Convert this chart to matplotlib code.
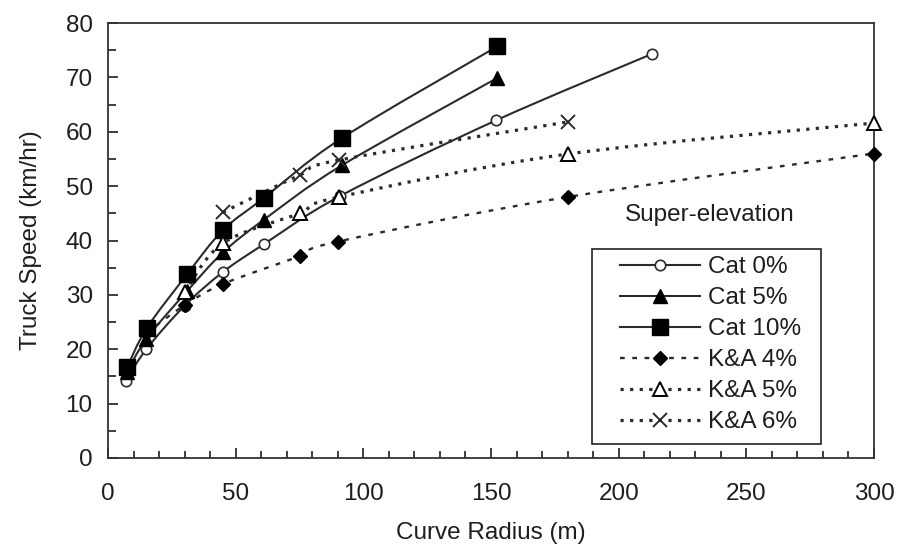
import numpy as np
import matplotlib
matplotlib.use("Agg")
import matplotlib.pyplot as plt
from matplotlib.path import Path
from matplotlib.patches import PathPatch, Rectangle
from matplotlib.lines import Line2D
from matplotlib.ticker import MultipleLocator

plt.rcParams['font.family'] = ['Liberation Sans', 'DejaVu Sans']

# ---- data ----
cat0_x = [7, 15, 30, 45, 61, 91, 152, 213]
cat0_y = [14.2, 20, 28, 34.2, 39.3, 48.2, 62.1, 74.3]
cat5_x = [7.5, 15, 31, 45, 61, 91.5, 152.5]
cat5_y = [15.8, 21.9, 30.7, 37.8, 43.8, 53.8, 69.9]
cat10_x = [7.5, 15.2, 31, 45, 61, 91.5, 152.5]
cat10_y = [16.7, 23.9, 33.8, 41.9, 47.8, 58.8, 75.7]
ka4_x = [15, 30, 45, 75, 90, 180, 300]
ka4_y = [23, 28.1, 32, 37.1, 39.8, 48, 56]
ka5_x = [30, 45, 75, 90.5, 180, 300]
ka5_y = [30.5, 39.5, 45, 48, 55.9, 61.6]
ka6_x = [45, 75, 90.5, 180]
ka6_y = [45.2, 52, 54.8, 61.8]

labels = ['Cat 0%', 'Cat 5%', 'Cat 10%', 'K&A 4%', 'K&A 5%', 'K&A 6%']

LC = '#2b2b2b'
TC = '#1e1e1e'
FS = 17.5
series = [
    (cat0_x, cat0_y, dict(marker='o', ms=7.5, mfc='white', mec=LC, mew=1.2), '-', 1.5),
    (cat5_x, cat5_y, dict(marker='^', ms=10.5, mfc='black', mec='black', mew=1), '-', 1.5),
    (cat10_x, cat10_y, dict(marker='s', ms=11, mfc='black', mec='black', mew=1), '-', 1.5),
    (ka4_x, ka4_y, dict(marker='D', ms=7.5, mfc='black', mec='black', mew=1), (0, (2.0, 3.2)), 1.7),
    (ka5_x, ka5_y, dict(marker='^', ms=10.5, mfc='white', mec='black', mew=1.4), (0, (1.0, 2.0)), 2.3),
    (ka6_x, ka6_y, dict(marker='x', ms=10.5, mfc='none', mec=LC, mew=1.4), (0, (1.0, 2.0)), 2.3),
]


def smooth_path(xs, ys):
    P = np.column_stack([xs, ys]).astype(float)
    n = len(P)
    verts = [P[0]]
    codes = [Path.MOVETO]
    for i in range(n - 1):
        p0 = P[i - 1] if i > 0 else P[i]
        p1 = P[i]
        p2 = P[i + 1]
        p3 = P[i + 2] if i + 2 < n else P[i + 1]
        c1 = p1 + (p2 - p0) / 6.0
        c2 = p2 - (p3 - p1) / 6.0
        verts += [c1, c2, p2]
        codes += [Path.CURVE4] * 3
    return Path(verts, codes)


W, H = 902, 548
fig = plt.figure(figsize=(W / 100, H / 100), dpi=100)
ax = fig.add_axes([108 / W, 1 - 458 / H, (874 - 108) / W, (458 - 23) / H])

handles = []
for (xs, ys, mk, ls, lw), lab in zip(series, labels):
    patch = PathPatch(smooth_path(xs, ys), fill=False, edgecolor=LC, lw=lw,
                      linestyle=ls, capstyle='butt', zorder=2)
    ax.add_patch(patch)
    ax.plot(xs, ys, linestyle='none', zorder=3, clip_on=False, **mk)
    handles.append(Line2D([0], [0], color=LC, lw=lw, linestyle=ls, **mk))

ax.set_xlim(0, 300)
ax.set_ylim(0, 80)
ax.xaxis.set_major_locator(MultipleLocator(50))
ax.xaxis.set_minor_locator(MultipleLocator(10))
ax.yaxis.set_major_locator(MultipleLocator(10))
ax.yaxis.set_minor_locator(MultipleLocator(5))
ax.tick_params(which='both', direction='in', colors=TC, labelsize=FS, width=1.2)
ax.tick_params(which='major', length=7)
ax.tick_params(axis='x', which='both', pad=18)
ax.tick_params(axis='y', which='both', pad=11)
ax.tick_params(axis='x', which='minor', length=5)
ax.tick_params(axis='y', which='minor', length=6)
for s in ax.spines.values():
    s.set_linewidth(1.3)
    s.set_color('#333333')

ax.set_xlabel('Curve Radius (m)', fontsize=FS, color=TC, labelpad=12)
ax.set_ylabel('Truck Speed (km/hr)', fontsize=FS, color=TC, labelpad=17)

fig.text(710 / W, 1 - 215 / H, 'Super-elevation', fontsize=FS,
         color=TC, ha='center', va='center')

# legend frame drawn separately for exact padding
fig.patches.append(Rectangle((592 / W, 1 - 444 / H), (821 - 592) / W, (444 - 249) / H,
                             transform=fig.transFigure, fill=False,
                             edgecolor='#222222', lw=1.2, zorder=5))
leg = fig.legend(handles, labels, loc='upper left',
                 bbox_to_anchor=(620 / W, 1 - 256 / H), borderaxespad=0,
                 fontsize=FS, numpoints=1, handlelength=3.3, handletextpad=0.3,
                 labelspacing=0.37, borderpad=0.0, frameon=False)
for t in leg.get_texts():
    t.set_color(TC)

fig.savefig('out.png', dpi=100)
